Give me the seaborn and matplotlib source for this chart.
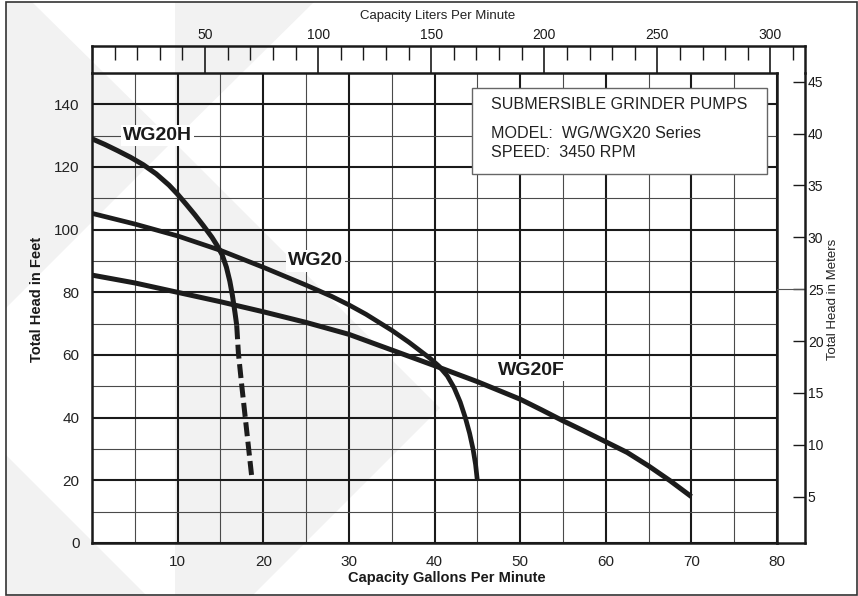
import seaborn as sns
import matplotlib.pyplot as plt
from matplotlib.patches import Polygon, Rectangle
from matplotlib.ticker import MultipleLocator, FixedLocator

sns.set_style("white")
plt.rcParams['font.family'] = ['Liberation Sans', 'DejaVu Sans']

# pump curves, gallons per minute vs feet of head
wg20h_gpm = [0, 1.5, 3, 4.5, 6, 7.5, 9, 10, 11, 12, 13, 14, 14.6, 15.2, 15.7, 16.1, 16.4, 16.7, 16.9]
wg20h_ft = [129, 127.2, 125.2, 123.1, 120.7, 117.8, 114.2, 111.3, 108.1, 104.8, 101.3, 97.6, 95,
            92, 88, 83.5, 79, 73.5, 69.5]
wg20h_ext_gpm = [16.9, 17.1, 17.5, 17.9, 18.3, 18.7]
wg20h_ext_ft = [69.5, 60.5, 50, 40, 30, 20]

wg20_gpm = [0, 5, 10, 15, 20, 25, 28, 30, 32, 35, 37, 39.5, 40.5, 41.5, 42.3, 43, 43.6, 44.1, 44.5,
            44.8, 45]
wg20_ft = [105.2, 101.8, 98, 93.4, 88, 82.3, 78.7, 76, 73, 67.9, 64.1, 58.9, 56.5, 53.3, 49.5,
           45, 40, 35, 30, 25, 20]

wg20f_gpm = [0, 5, 10, 15, 20, 25, 30, 35, 40, 45, 47.5, 50, 52.5, 55, 57.5, 60, 62.5, 65, 67.5, 70]
wg20f_ft = [85.5, 83, 80, 77, 73.8, 70.4, 66.6, 61.6, 56.6, 51.5, 48.7, 45.9, 42.5, 39, 35.7,
            32.3, 28.9, 24.6, 19.9, 14.8]

curve_labels = ['WG20H', 'WG20', 'WG20F']
label_gpm = [7.65, 26.1, 51.3]
label_ft = [130, 90, 55.2]

gpm_ticks = [10, 20, 30, 40, 50, 60, 70, 80]
ft_ticks = [0, 20, 40, 60, 80, 100, 120, 140]
lpm_ticks = [50, 100, 150, 200, 250, 300]
m_ticks = [5, 10, 15, 20, 25, 30, 35, 40, 45]

info_lines = ['SUBMERSIBLE GRINDER PUMPS', 'MODEL:  WG/WGX20 Series', 'SPEED:  3450 RPM']

W, H = 858, 596
fig = plt.figure(figsize=(W / 100, H / 100), dpi=100)


def px(x, y):
    return (x / W, 1 - y / H)


# faint watermark behind the chart
shade = '#f2f2f2'
for pts in [[(6, 2), (32, 2), (173, 141), (6, 308)],
            [(175, 2), (314, 2), (175, 139)],
            [(175, 143), (440, 408), (253, 595), (175, 595)],
            [(6, 455), (146, 595), (6, 595)]]:
    fig.patches.append(Polygon([px(*p) for p in pts], closed=True, facecolor=shade,
                               edgecolor='none', transform=fig.transFigure, zorder=-2))
fig.patches.append(Rectangle(px(6, 595), 851 / W, 593 / H, fill=False, edgecolor='#333',
                             linewidth=1.2, transform=fig.transFigure, zorder=-1))

# main grid
ax = fig.add_axes([92 / W, 53 / H, 685 / W, 470 / H])
ax.patch.set_alpha(0)
ax.set_xlim(0, 80)
ax.set_ylim(0, 150)
ax.xaxis.set_major_locator(FixedLocator(gpm_ticks))
ax.xaxis.set_minor_locator(MultipleLocator(5))
ax.yaxis.set_major_locator(FixedLocator(ft_ticks))
ax.yaxis.set_minor_locator(MultipleLocator(10))
ax.grid(which='major', color='#1a1a1a', linewidth=1.5)
ax.grid(which='minor', color='#4a4a4a', linewidth=0.8)
ax.set_axisbelow(True)
ax.tick_params(which='both', length=0, labelsize=11, colors='#222')
ax.tick_params(axis='x', pad=9)
ax.tick_params(axis='y', pad=9)
for s in ax.spines.values():
    s.set_color('#1a1a1a')
    s.set_linewidth(1.8)

ink = '#1c1c1c'
line_kw = dict(sort=False, estimator=None, ax=ax, color=ink, zorder=4,
               solid_joinstyle='round', solid_capstyle='butt')
sns.lineplot(x=wg20h_gpm, y=wg20h_ft, linewidth=3.6, **line_kw)
sns.lineplot(x=wg20h_ext_gpm, y=wg20h_ext_ft, linewidth=3.6, linestyle=(0, (2.8, 1.1)),
             **line_kw)
sns.lineplot(x=wg20_gpm, y=wg20_ft, linewidth=3.4, **line_kw)
sns.lineplot(x=wg20f_gpm, y=wg20f_ft, linewidth=3.6, **line_kw)

for name, gx, gy in zip(curve_labels, label_gpm, label_ft):
    ax.text(gx, gy, name, ha='center', va='center', fontsize=14, fontweight='bold',
            color='#1a1a1a', zorder=3,
            bbox=dict(facecolor='white', edgecolor='none', pad=1.5))

ax.add_patch(Rectangle((44.4, 117.8), 34.4, 27.4, facecolor='white', edgecolor='#666',
                       linewidth=1, zorder=3))
for line, gy in zip(info_lines, [140.0, 130.7, 124.5]):
    ax.text(46.6, gy, line, ha='left', va='center', fontsize=11.6, color='#222', zorder=4)

# liters scale on top
axt = fig.add_axes([92 / W, 523 / H, 713 / W, 27 / H])
axt.patch.set_alpha(0)
axt.set_xlim(0, 713 / 2.2616)
axt.set_ylim(0, 1)
axt.xaxis.set_major_locator(FixedLocator(lpm_ticks))
axt.xaxis.set_minor_locator(MultipleLocator(10))
axt.set_yticks([])
axt.xaxis.tick_top()
axt.tick_params(axis='x', which='major', direction='in', length=19.4, width=1.2,
                labelsize=10, pad=3, colors='#1a1a1a')
axt.tick_params(axis='x', which='minor', direction='in', length=10, width=1, colors='#1a1a1a')
axt.spines['bottom'].set_visible(False)
for k in ['top', 'left', 'right']:
    axt.spines[k].set_color('#1a1a1a')
    axt.spines[k].set_linewidth(1.8)

# meters scale on the right
axr = fig.add_axes([777 / W, 53 / H, 28 / W, 470 / H])
axr.patch.set_alpha(0)
axr.set_ylim(0.54, 45.84)
axr.set_xlim(0, 1)
axr.set_xticks([])
axr.yaxis.set_major_locator(FixedLocator(m_ticks))
axr.yaxis.tick_right()
axr.tick_params(axis='y', direction='in', length=8.6, width=1, labelsize=10, pad=2,
                colors='#1a1a1a')
axr.axhline(25, color='#555', linewidth=0.8)
axr.spines['top'].set_visible(False)
axr.spines['left'].set_visible(False)
for k in ['right', 'bottom']:
    axr.spines[k].set_color('#1a1a1a')
    axr.spines[k].set_linewidth(1.8)

fig.text(437.5 / W, 1 - 16 / H, 'Capacity Liters Per Minute', ha='center', va='center',
         fontsize=9.5, color='#222')
fig.text(447 / W, 1 - 578.3 / H, 'Capacity Gallons Per Minute', ha='center', va='center',
         fontsize=10.5, fontweight='bold', color='#1a1a1a')
fig.text(37 / W, 1 - 299.6 / H, 'Total Head in Feet', ha='center', va='center',
         fontsize=10.5, fontweight='bold', rotation=90, color='#1a1a1a')
fig.text(833 / W, 1 - 299.5 / H, 'Total Head in Meters', ha='center', va='center',
         fontsize=9.5, rotation=90, color='#222')

fig.savefig('out.png', dpi=100)
